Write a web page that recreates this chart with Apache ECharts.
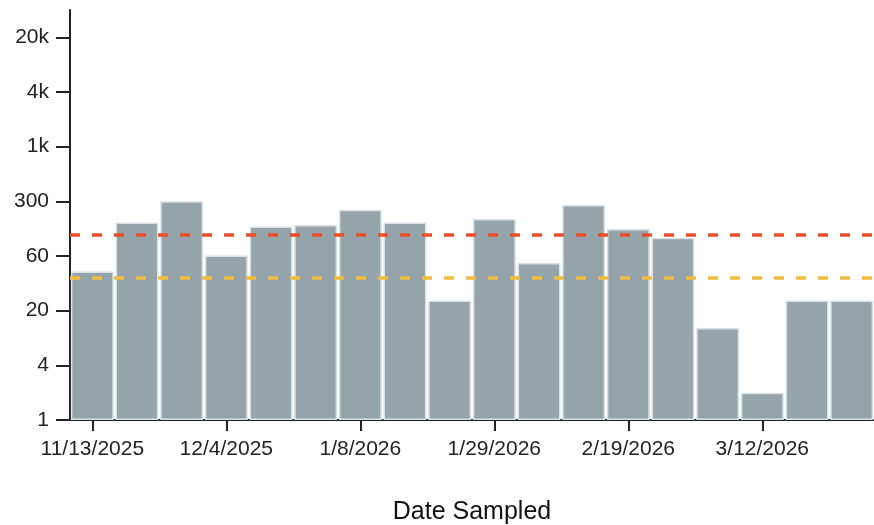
<!DOCTYPE html>
<html>
<head>
<meta charset="utf-8">
<script src="https://cdn.jsdelivr.net/npm/echarts@6/dist/echarts.min.js"></script>
<style>
html,body{margin:0;padding:0;background:#fff;}
#chart{width:874px;height:525px;}
</style>
</head>
<body>
<div id="chart"></div>
<script>
// Data
const categories = ['11/13/2025','11/20/2025','11/26/2025','12/4/2025','12/11/2025','12/18/2025','1/8/2026','1/15/2026','1/22/2026','1/29/2026','2/5/2026','2/12/2026','2/19/2026','2/26/2026','3/5/2026','3/12/2026','3/19/2026','3/26/2026'];
const sampleValues = [44, 161, 300, 61, 143, 149, 234, 161, 24.5, 178, 52, 270, 133, 103, 12, 2, 24.5, 24.5];
const tickValues = [1, 4, 20, 60, 300, 1000, 4000, 20000];
const tickLabels = ['1', '4', '20', '60', '300', '1k', '4k', '20k'];
const upperThreshold = 110;
const lowerThreshold = 39;

// custom piecewise-log scale: each tick value sits at an even step
function toPos(v) {
  if (v <= tickValues[0]) return 0;
  for (let i = 0; i < tickValues.length - 1; i++) {
    const a = tickValues[i], b = tickValues[i + 1];
    if (v <= b) return i + Math.log(v / a) / Math.log(b / a);
  }
  return tickValues.length - 1;
}

const tickPositions = tickValues.map((_, i) => i);
const font = 'Liberation Sans, Arial, Helvetica, sans-serif';

const chart = echarts.init(document.getElementById('chart'), null, {renderer: 'canvas'});
chart.setOption({
  animation: false,
  grid: {left: 70, right: 0, top: 10, bottom: 105, containLabel: false, outerBoundsMode: 'none'},
  xAxis: {
    type: 'category',
    data: categories,
    boundaryGap: true,
    name: 'Date Sampled',
    nameLocation: 'middle',
    nameGap: 80,
    nameTextStyle: {fontFamily: font, fontSize: 25, color: '#111'},
    axisLine: {show: true, lineStyle: {color: '#222', width: 2}},
    axisTick: {show: true, alignWithLabel: true, interval: 2, length: 11, lineStyle: {color: '#222', width: 2}},
    axisLabel: {show: true, interval: 2, margin: 19, fontFamily: font, fontSize: 21, color: '#222'},
    splitLine: {show: false}
  },
  yAxis: {
    type: 'value',
    min: 0,
    max: 7.5,
    interval: 1,
    axisLine: {show: true, lineStyle: {color: '#222', width: 2}},
    axisTick: {show: true, customValues: tickPositions, length: 14, lineStyle: {color: '#222', width: 2}},
    axisLabel: {customValues: tickPositions, margin: 21, fontFamily: font, fontSize: 21, color: '#222',
      formatter: v => tickLabels[Math.round(v)]},
    splitLine: {show: false}
  },
  series: [{
    type: 'bar',
    data: sampleValues.map(toPos),
    barCategoryGap: '4%',
    itemStyle: {color: '#95a4aa', borderColor: '#d9e1e4', borderWidth: 1.5},
    markLine: {
      silent: true,
      symbol: 'none',
      label: {show: false},
      data: [
        {yAxis: toPos(upperThreshold), lineStyle: {color: '#e8502a', width: 3.5, type: [10, 12]}},
        {yAxis: toPos(lowerThreshold), lineStyle: {color: '#f0bc3f', width: 3.5, type: [10, 12]}}
      ]
    }
  }]
});
</script>
</body>
</html>
